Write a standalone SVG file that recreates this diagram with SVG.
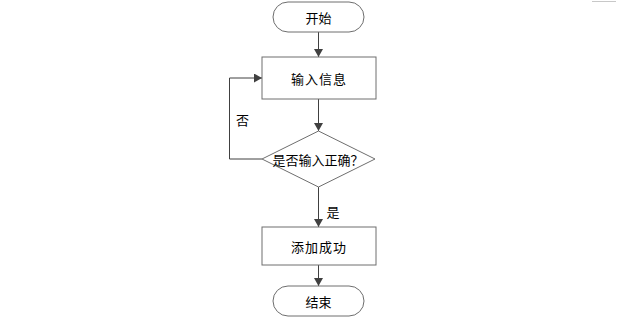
<svg xmlns="http://www.w3.org/2000/svg" width="640" height="322" viewBox="0 0 640 322">
<style>
.shape{fill:#fff;stroke:#6e6e6e;stroke-width:1}
.conn{fill:none;stroke:#404040;stroke-width:1}
.t{font-family:"Noto Sans CJK SC","Noto Sans",sans-serif;font-size:13px;fill:#000;text-anchor:middle;dominant-baseline:central}
</style>
<defs>
<marker id="arr" markerWidth="8" markerHeight="9" refX="8" refY="4.5" orient="auto" markerUnits="userSpaceOnUse">
<path d="M0,0 L8,4.5 L0,9 Z" fill="#404040"/>
</marker>
</defs>
<rect width="640" height="322" fill="#fff"/>
<line x1="592" y1="1.5" x2="616" y2="1.5" stroke="#c8c8c8" stroke-width="1"/>
<g id="connectors">
<line class="conn" x1="318.5" y1="32" x2="318.5" y2="57" marker-end="url(#arr)"/>
<line class="conn" x1="318.5" y1="99" x2="318.5" y2="131" marker-end="url(#arr)"/>
<polyline class="conn" points="262,159 229.5,159 229.5,78 262,78" marker-end="url(#arr)"/>
<line class="conn" x1="318.5" y1="187" x2="318.5" y2="227" marker-end="url(#arr)"/>
<line class="conn" x1="318.5" y1="265" x2="318.5" y2="286" marker-end="url(#arr)"/>
<text class="t" x="242.5" y="119">否</text>
<text class="t" x="333" y="211">是</text>
</g>
<g id="start">
<rect class="shape" x="273" y="2" width="91" height="30" rx="15" ry="15"/>
<text class="t" x="318.5" y="17">开始</text>
</g>
<g id="input">
<rect class="shape" x="262" y="57" width="114" height="42"/>
<text class="t" x="319" y="78" letter-spacing="1">输入信息</text>
</g>
<g id="check">
<polygon class="shape" points="318.5,131 375,159 318.5,187 262,159"/>
<text class="t" x="318" y="159" font-size="12">是否输入正确？</text>
</g>
<g id="success">
<rect class="shape" x="262" y="227" width="114" height="38"/>
<text class="t" x="319" y="246" letter-spacing="1">添加成功</text>
</g>
<g id="end">
<rect class="shape" x="273" y="286" width="91" height="30" rx="15" ry="15"/>
<text class="t" x="318.5" y="301">结束</text>
</g>
</svg>
